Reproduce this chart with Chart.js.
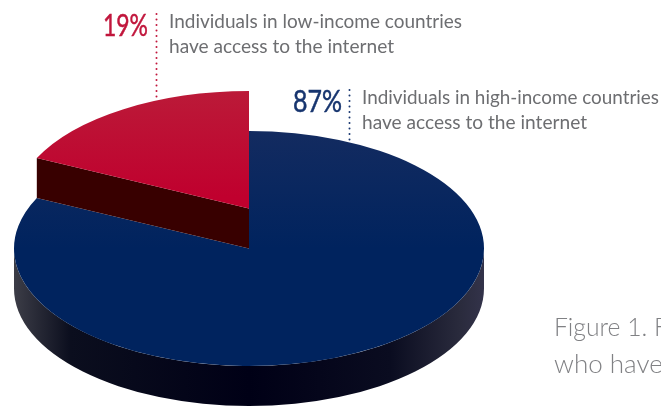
<!DOCTYPE html>
<html>
<head>
<meta charset="utf-8">
<style>
html,body{margin:0;padding:0;background:#fff;overflow:hidden}
canvas{display:block}
</style>
<script src="https://cdn.jsdelivr.net/npm/chart.js@4"></script>
</head>
<body>
<canvas id="pie" width="661" height="407"></canvas>
<script>
// Internet access by national income: each slice is sized from its stated percentage.
const categories = ['High-income countries', 'Low-income countries'];
const values = [87, 19];
const topColors = [['#132b60', '#00235e'], ['#bb1a38', '#c0002e']];
const rimStops = [[0, '#3c3d47'], [0.12, '#0b0e1e'], [0.5, '#000016'], [0.8, '#0a0c20'], [0.95, '#2a2b3d'], [1, '#33334a']];
const cutFaceColor = '#380000';
const captionLines = ['Figure 1. F', 'who have'];
const labelLines = [
  ['Individuals in high-income countries', 'have access to the internet'],
  ['Individuals in low-income countries', 'have access to the internet']
];
const labelColors = ['#17356f', '#c1163c'];
const labelFont = 'Lato, sans-serif';

const squash = 0.5;      // vertical foreshortening of the tilted disc
const depth = 40;        // thickness of the disc in pixels

function project(ctx, arc, lift) {
  ctx.translate(arc.x, arc.y - lift);
  ctx.scale(1, squash);
  ctx.translate(-arc.x, -arc.y);
}

const leaders = [
  {x: 349.5, top: 90, bottom: 145, color: labelColors[0]},
  {x: 156.5, top: 14, bottom: 100, color: labelColors[1]}
];

function drawLeaders(ctx) {
  ctx.save();
  ctx.lineWidth = 2;
  ctx.lineCap = 'round';
  ctx.setLineDash([0.1, 5.4]);
  leaders.forEach(l => {
    ctx.strokeStyle = l.color;
    ctx.beginPath();
    ctx.moveTo(l.x, l.top);
    ctx.lineTo(l.x, l.bottom);
    ctx.stroke();
  });
  ctx.restore();
}

// Side wall below the front half of the large slice
function drawRim(ctx, arc) {
  const rx = arc.outerRadius, ry = rx * squash;
  const g = ctx.createLinearGradient(arc.x - rx, 0, arc.x + rx, 0);
  rimStops.forEach(s => g.addColorStop(s[0], s[1]));
  ctx.save();
  ctx.fillStyle = g;
  ctx.beginPath();
  ctx.ellipse(arc.x, arc.y, rx, ry, 0, 0, Math.PI);
  ctx.lineTo(arc.x - rx, arc.y + depth);
  ctx.ellipse(arc.x, arc.y + depth, rx, ry, 0, Math.PI, 0, true);
  ctx.closePath();
  ctx.fill();
  ctx.restore();
}

// Cut face of the raised slice, from the centre out to its left corner
function drawCutFace(ctx, arc) {
  const rx = arc.outerRadius, ry = rx * squash;
  const cornerX = arc.x + Math.cos(arc.startAngle) * rx;
  const cornerY = arc.y + Math.sin(arc.startAngle) * ry;
  ctx.save();
  ctx.fillStyle = cutFaceColor;
  ctx.beginPath();
  ctx.moveTo(arc.x, arc.y - depth);
  ctx.lineTo(cornerX, cornerY - depth);
  ctx.lineTo(cornerX, cornerY);
  ctx.lineTo(arc.x, arc.y);
  ctx.closePath();
  ctx.fill();
  ctx.restore();
}

const tiltedPie = {
  id: 'tiltedPie',
  beforeDatasetDraw(chart, args) {
    const ctx = chart.ctx;
    const [large, small] = args.meta.data;
    drawLeaders(ctx);
    drawRim(ctx, large);
    ctx.save();
    project(ctx, large, 0);
    large.draw(ctx);
    ctx.restore();
    drawCutFace(ctx, small);
    ctx.save();
    project(ctx, small, depth);
    small.draw(ctx);
    ctx.restore();
    return false;
  },
  afterDraw(chart) {
    const ctx = chart.ctx;
    ctx.save();
    ctx.textBaseline = 'alphabetic';
    // Percentage figures, narrowed to the width of the leader gap
    ctx.textAlign = 'left';
    ctx.font = `31px ${labelFont}`;
    ctx.lineWidth = 0.5;
    ctx.fillStyle = ctx.strokeStyle = labelColors[1];
    ctx.fillText(values[1] + '%', 103, 36, 45);
    ctx.strokeText(values[1] + '%', 103, 36, 45);
    ctx.fillStyle = ctx.strokeStyle = labelColors[0];
    ctx.fillText(values[0] + '%', 293, 112, 49);
    ctx.strokeText(values[0] + '%', 293, 112, 49);
    // Descriptions
    ctx.font = `19.5px ${labelFont}`;
    ctx.fillStyle = '#6d6e71';
    ctx.fillText(labelLines[1][0], 169, 28, 293);
    ctx.fillText(labelLines[1][1], 169, 53, 225);
    ctx.fillText(labelLines[0][0], 362, 104, 297);
    ctx.fillText(labelLines[0][1], 362, 129, 225);
    // Caption running off the right edge
    ctx.font = `300 26px ${labelFont}`;
    ctx.fillStyle = '#808184';
    ctx.fillText(captionLines[0], 554, 336, 114);
    ctx.fillText(captionLines[1], 554, 373);
    ctx.restore();
  }
};

// Soft top-to-bottom shading on each slice, sized from the chart's own centre and radius
function surfaceFill(context) {
  const chart = context.chart;
  const stops = topColors[context.dataIndex];
  const area = chart.chartArea;
  if (!area) return stops[1];
  const cy = (area.top + area.bottom) / 2;
  const r = chart.options.radius;
  const g = chart.ctx.createLinearGradient(0, cy - r, 0, cy + r);
  g.addColorStop(0, stops[0]);
  g.addColorStop(context.dataIndex === 0 ? 0.5 : 0.45, stops[1]);
  g.addColorStop(1, stops[1]);
  return g;
}

new Chart(document.getElementById('pie'), {
  type: 'pie',
  data: {
    labels: categories,
    datasets: [{data: values, backgroundColor: surfaceFill, borderWidth: 0}]
  },
  options: {
    responsive: false,
    animation: false,
    radius: 235,
    layout: {padding: {top: 90, right: 163, bottom: 0, left: 0}},
    plugins: {legend: {display: false}, tooltip: {enabled: false}}
  },
  plugins: [tiltedPie]
});
</script>
</body>
</html>
